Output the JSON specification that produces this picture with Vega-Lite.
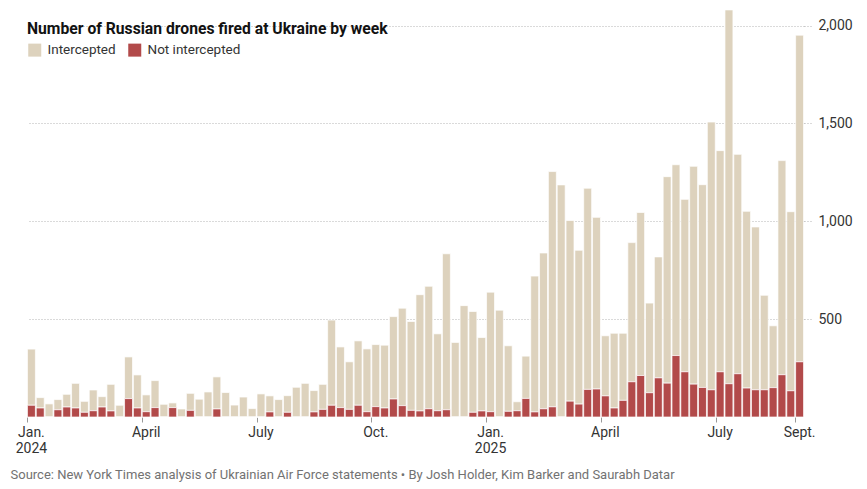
{
  "$schema": "https://vega.github.io/schema/vega-lite/v6.json",
  "width": 777,
  "height": 411,
  "autosize": {"type": "none"},
  "padding": {"left": 27, "top": 6, "right": 63, "bottom": 72},
  "background": "white",
  "title": {
    "text": "Number of Russian drones fired at Ukraine by week",
    "anchor": "start",
    "frame": "group",
    "orient": "top",
    "baseline": "alphabetic",
    "offset": -44,
    "font": "Roboto, sans-serif",
    "fontSize": 15.7,
    "fontWeight": "bold",
    "color": "#121212"
  },
  "data": {
    "values": [
      {"week": "2024-01-01", "Intercepted": 287, "Not intercepted": 60},
      {"week": "2024-01-08", "Intercepted": 53, "Not intercepted": 46},
      {"week": "2024-01-15", "Intercepted": 67, "Not intercepted": 0},
      {"week": "2024-01-22", "Intercepted": 52, "Not intercepted": 37},
      {"week": "2024-01-29", "Intercepted": 65, "Not intercepted": 51},
      {"week": "2024-02-05", "Intercepted": 126, "Not intercepted": 46},
      {"week": "2024-02-12", "Intercepted": 56, "Not intercepted": 24},
      {"week": "2024-02-19", "Intercepted": 106, "Not intercepted": 32},
      {"week": "2024-02-26", "Intercepted": 53, "Not intercepted": 51},
      {"week": "2024-03-04", "Intercepted": 136, "Not intercepted": 31},
      {"week": "2024-03-11", "Intercepted": 60, "Not intercepted": 0},
      {"week": "2024-03-18", "Intercepted": 213, "Not intercepted": 94},
      {"week": "2024-03-25", "Intercepted": 169, "Not intercepted": 46},
      {"week": "2024-04-01", "Intercepted": 86, "Not intercepted": 27},
      {"week": "2024-04-08", "Intercepted": 138, "Not intercepted": 48},
      {"week": "2024-04-15", "Intercepted": 65, "Not intercepted": 0},
      {"week": "2024-04-22", "Intercepted": 24, "Not intercepted": 48},
      {"week": "2024-04-29", "Intercepted": 41, "Not intercepted": 0},
      {"week": "2024-05-06", "Intercepted": 87, "Not intercepted": 34},
      {"week": "2024-05-13", "Intercepted": 91, "Not intercepted": 0},
      {"week": "2024-05-20", "Intercepted": 128, "Not intercepted": 0},
      {"week": "2024-05-27", "Intercepted": 164, "Not intercepted": 41},
      {"week": "2024-06-03", "Intercepted": 125, "Not intercepted": 0},
      {"week": "2024-06-10", "Intercepted": 61, "Not intercepted": 0},
      {"week": "2024-06-17", "Intercepted": 102, "Not intercepted": 0},
      {"week": "2024-06-24", "Intercepted": 43, "Not intercepted": 0},
      {"week": "2024-07-01", "Intercepted": 118, "Not intercepted": 0},
      {"week": "2024-07-08", "Intercepted": 82, "Not intercepted": 26},
      {"week": "2024-07-15", "Intercepted": 89, "Not intercepted": 0},
      {"week": "2024-07-22", "Intercepted": 85, "Not intercepted": 24},
      {"week": "2024-07-29", "Intercepted": 152, "Not intercepted": 0},
      {"week": "2024-08-05", "Intercepted": 172, "Not intercepted": 0},
      {"week": "2024-08-12", "Intercepted": 109, "Not intercepted": 26},
      {"week": "2024-08-19", "Intercepted": 128, "Not intercepted": 39},
      {"week": "2024-08-26", "Intercepted": 435, "Not intercepted": 60},
      {"week": "2024-09-02", "Intercepted": 310, "Not intercepted": 48},
      {"week": "2024-09-09", "Intercepted": 243, "Not intercepted": 39},
      {"week": "2024-09-16", "Intercepted": 329, "Not intercepted": 60},
      {"week": "2024-09-23", "Intercepted": 321, "Not intercepted": 27},
      {"week": "2024-09-30", "Intercepted": 317, "Not intercepted": 53},
      {"week": "2024-10-07", "Intercepted": 321, "Not intercepted": 46},
      {"week": "2024-10-14", "Intercepted": 421, "Not intercepted": 92},
      {"week": "2024-10-21", "Intercepted": 498, "Not intercepted": 58},
      {"week": "2024-10-28", "Intercepted": 454, "Not intercepted": 34},
      {"week": "2024-11-04", "Intercepted": 594, "Not intercepted": 31},
      {"week": "2024-11-11", "Intercepted": 626, "Not intercepted": 42},
      {"week": "2024-11-18", "Intercepted": 393, "Not intercepted": 32},
      {"week": "2024-11-25", "Intercepted": 797, "Not intercepted": 37},
      {"week": "2024-12-02", "Intercepted": 381, "Not intercepted": 0},
      {"week": "2024-12-09", "Intercepted": 569, "Not intercepted": 0},
      {"week": "2024-12-16", "Intercepted": 515, "Not intercepted": 24},
      {"week": "2024-12-23", "Intercepted": 375, "Not intercepted": 31},
      {"week": "2024-12-30", "Intercepted": 611, "Not intercepted": 27},
      {"week": "2025-01-06", "Intercepted": 546, "Not intercepted": 0},
      {"week": "2025-01-13", "Intercepted": 335, "Not intercepted": 29},
      {"week": "2025-01-20", "Intercepted": 46, "Not intercepted": 32},
      {"week": "2025-01-27", "Intercepted": 216, "Not intercepted": 95},
      {"week": "2025-02-03", "Intercepted": 694, "Not intercepted": 26},
      {"week": "2025-02-10", "Intercepted": 796, "Not intercepted": 42},
      {"week": "2025-02-17", "Intercepted": 1202, "Not intercepted": 52},
      {"week": "2025-02-24", "Intercepted": 1186, "Not intercepted": 0},
      {"week": "2025-03-03", "Intercepted": 923, "Not intercepted": 81},
      {"week": "2025-03-10", "Intercepted": 786, "Not intercepted": 66},
      {"week": "2025-03-17", "Intercepted": 1028, "Not intercepted": 141},
      {"week": "2025-03-24", "Intercepted": 877, "Not intercepted": 143},
      {"week": "2025-03-31", "Intercepted": 307, "Not intercepted": 108},
      {"week": "2025-04-07", "Intercepted": 382, "Not intercepted": 46},
      {"week": "2025-04-14", "Intercepted": 343, "Not intercepted": 85},
      {"week": "2025-04-21", "Intercepted": 711, "Not intercepted": 180},
      {"week": "2025-04-28", "Intercepted": 833, "Not intercepted": 212},
      {"week": "2025-05-05", "Intercepted": 458, "Not intercepted": 124},
      {"week": "2025-05-12", "Intercepted": 618, "Not intercepted": 200},
      {"week": "2025-05-19", "Intercepted": 1055, "Not intercepted": 173},
      {"week": "2025-05-26", "Intercepted": 975, "Not intercepted": 314},
      {"week": "2025-06-02", "Intercepted": 881, "Not intercepted": 231},
      {"week": "2025-06-09", "Intercepted": 1113, "Not intercepted": 168},
      {"week": "2025-06-16", "Intercepted": 1036, "Not intercepted": 151},
      {"week": "2025-06-23", "Intercepted": 1368, "Not intercepted": 139},
      {"week": "2025-06-30", "Intercepted": 1130, "Not intercepted": 231},
      {"week": "2025-07-07", "Intercepted": 1910, "Not intercepted": 170},
      {"week": "2025-07-14", "Intercepted": 1121, "Not intercepted": 221},
      {"week": "2025-07-21", "Intercepted": 903, "Not intercepted": 148},
      {"week": "2025-07-28", "Intercepted": 832, "Not intercepted": 139},
      {"week": "2025-08-04", "Intercepted": 483, "Not intercepted": 139},
      {"week": "2025-08-11", "Intercepted": 316, "Not intercepted": 150},
      {"week": "2025-08-18", "Intercepted": 1094, "Not intercepted": 216},
      {"week": "2025-08-25", "Intercepted": 915, "Not intercepted": 134},
      {"week": "2025-09-01", "Intercepted": 1669, "Not intercepted": 282}
    ]
  },
  "transform": [
    {"fold": ["Intercepted", "Not intercepted"], "as": ["type", "count"]}
  ],
  "mark": {"type": "bar", "stroke": "white", "strokeWidth": 0.7},
  "encoding": {
    "x": {
      "field": "week",
      "type": "ordinal",
      "scale": {"paddingInner": 0.1, "paddingOuter": 0.05},
      "axis": {
        "values": ["2024-01-01", "2024-04-01", "2024-07-01", "2024-09-30", "2024-12-30", "2025-03-31", "2025-06-30", "2025-09-01"],
        "labelExpr": "datum.value == '2024-01-01' ? ['Jan.', '2024'] : datum.value == '2024-04-01' ? 'April' : datum.value == '2024-07-01' ? 'July' : datum.value == '2024-09-30' ? 'Oct.' : datum.value == '2024-12-30' ? ['Jan.', '2025'] : datum.value == '2025-03-31' ? 'April' : datum.value == '2025-06-30' ? 'July' : 'Sept.'",
        "bandPosition": 0,
        "labelAngle": 0,
        "labelAlign": "center",
        "labelPadding": 3,
        "labelFontSize": 14,
        "labelLineHeight": 16,
        "labelColor": "#333333",
        "labelFont": "Roboto, sans-serif",
        "domain": false,
        "ticks": true,
        "tickSize": 5,
        "tickColor": "#999999",
        "grid": false,
        "title": "Source: New York Times analysis of Ukrainian Air Force statements  •  By Josh Holder, Kim Barker and Saurabh Datar",
        "titleAnchor": "start",
        "titleAlign": "left",
        "titleBaseline": "alphabetic",
        "titleX": -17,
        "titleY": 61,
        "titleFont": "Roboto, sans-serif",
        "titleFontSize": 13,
        "titleFontWeight": "normal",
        "titleColor": "#727272"
      }
    },
    "y": {
      "field": "count",
      "type": "quantitative",
      "stack": "zero",
      "scale": {"domain": [0, 2100], "nice": false, "zero": true},
      "axis": {
        "orient": "right",
        "values": [500, 1000, 1500, 2000],
        "format": ",.0f",
        "grid": true,
        "gridDash": [1, 2],
        "gridColor": "#b5b5b5",
        "gridWidth": 1,
        "ticks": true,
        "tickDash": [1, 2],
        "tickColor": "#b5b5b5",
        "tickSize": 8,
        "domain": false,
        "labelPadding": 6,
        "labelAlign": "left",
        "labelFontSize": 14,
        "labelColor": "#333333",
        "labelFont": "Roboto, sans-serif",
        "title": null
      }
    },
    "color": {
      "field": "type",
      "type": "nominal",
      "scale": {"domain": ["Intercepted", "Not intercepted"], "range": ["#ddd2bd", "#b24a4a"]},
      "legend": {
        "orient": "none",
        "legendX": 1,
        "legendY": 37,
        "direction": "horizontal",
        "title": null,
        "symbolType": "square",
        "symbolSize": 169,
        "symbolStrokeWidth": 0,
        "symbolOpacity": 1,
        "labelFontSize": 13.5,
        "labelColor": "#333333",
        "labelFont": "Roboto, sans-serif",
        "labelOffset": 6,
        "columnPadding": 12
      }
    },
    "order": {"field": "type", "sort": "descending"}
  },
  "config": {
    "view": {"stroke": null}
  }
}
